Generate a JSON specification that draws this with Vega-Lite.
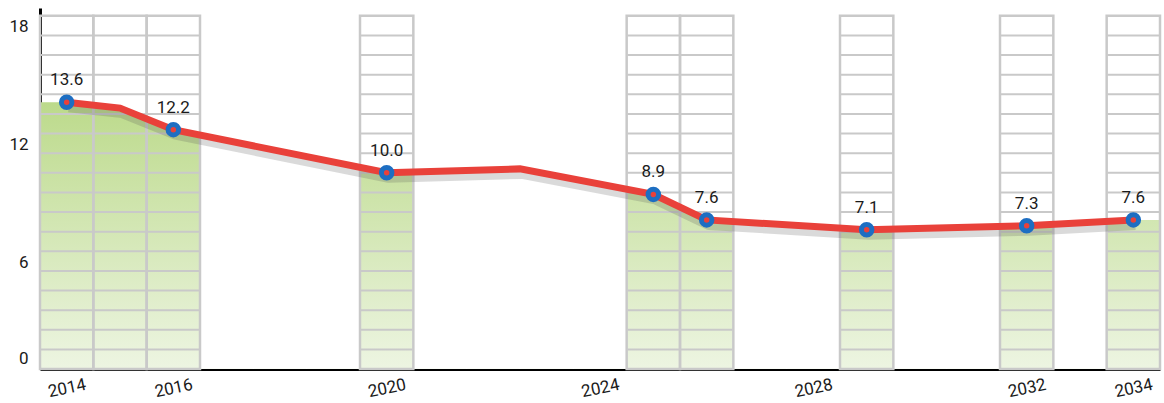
{
  "$schema": "https://vega.github.io/schema/vega-lite/v6.json",
  "width": 1120,
  "height": 361,
  "autosize": {"type": "none"},
  "padding": {"left": 40, "top": 8, "right": 4, "bottom": 34},
  "background": "white",
  "config": {
    "view": {"stroke": null},
    "font": "Roboto",
    "axis": {"labelFont": "Roboto", "labelColor": "#1a1a1a", "zindex": 2}
  },
  "datasets": {
    "years": [
      {"year": 2014, "kind": "col"}, {"year": 2015, "kind": "col"}, {"year": 2016, "kind": "col"},
      {"year": 2017, "kind": "gap"}, {"year": 2018, "kind": "gap"}, {"year": 2019, "kind": "gap"},
      {"year": 2020, "kind": "col"}, {"year": 2021, "kind": "gap"}, {"year": 2022, "kind": "gap"},
      {"year": 2023, "kind": "gap"}, {"year": 2024, "kind": "gap"}, {"year": 2025, "kind": "col"},
      {"year": 2026, "kind": "col"}, {"year": 2027, "kind": "gap"}, {"year": 2028, "kind": "gap"},
      {"year": 2029, "kind": "col"}, {"year": 2030, "kind": "gap"}, {"year": 2031, "kind": "gap"},
      {"year": 2032, "kind": "col"}, {"year": 2033, "kind": "gap"}, {"year": 2034, "kind": "col"}
    ],
    "levels": [
      {"level": 1}, {"level": 2}, {"level": 3}, {"level": 4}, {"level": 5}, {"level": 6},
      {"level": 7}, {"level": 8}, {"level": 9}, {"level": 10}, {"level": 11}, {"level": 12},
      {"level": 13}, {"level": 14}, {"level": 15}, {"level": 16}, {"level": 17}
    ],
    "series": [
      {"year": 2013.5, "value": 13.6, "kind": "edge"},
      {"year": 2014, "value": 13.6, "kind": "point", "label": "13.6"},
      {"year": 2015, "value": 13.3, "kind": "vertex"},
      {"year": 2016, "value": 12.2, "kind": "point", "label": "12.2"},
      {"year": 2020, "value": 10.0, "kind": "point", "label": "10.0"},
      {"year": 2022.5, "value": 10.2, "kind": "vertex"},
      {"year": 2025, "value": 8.9, "kind": "point", "label": "8.9"},
      {"year": 2026, "value": 7.6, "kind": "point", "label": "7.6"},
      {"year": 2029, "value": 7.1, "kind": "point", "label": "7.1"},
      {"year": 2032, "value": 7.3, "kind": "point", "label": "7.3"},
      {"year": 2034, "value": 7.6, "kind": "point", "label": "7.6"},
      {"year": 2034.5, "value": 7.6, "kind": "edge"}
    ]
  },
  "resolve": {"scale": {"x": "independent"}},
  "layer": [
    {
      "data": {"name": "series"},
      "mark": {
        "type": "area",
        "color": {
          "gradient": "linear", "x1": 0, "y1": 0, "x2": 0, "y2": 1,
          "stops": [{"offset": 0, "color": "#bcda8b"}, {"offset": 1, "color": "#edf5e2"}]
        }
      },
      "encoding": {
        "x": {
          "field": "year", "type": "quantitative",
          "scale": {"domain": [2013.5, 2034.5], "nice": false, "zero": false},
          "axis": {
            "values": [2014, 2016, 2020, 2024, 2028, 2032, 2034],
            "format": "d", "title": null, "grid": false, "ticks": false,
            "domainColor": "#000000", "domainWidth": 3,
            "labelAngle": -12, "labelAlign": "center", "labelBaseline": "middle",
            "labelFontSize": 17, "labelPadding": 19, "labelFontWeight": 400
          }
        },
        "y": {
          "field": "value", "type": "quantitative",
          "scale": {"domain": [0, 18.4], "nice": false},
          "axis": {
            "values": [0, 6, 12, 18], "title": null, "grid": false, "ticks": false,
            "domainColor": "#000000", "domainWidth": 3,
            "labelFontSize": 17, "labelPadding": 12, "labelFontWeight": 400,
            "labelOffset": {"condition": {"test": "datum.value === 0", "value": -11}, "value": 11}
          }
        }
      }
    },
    {
      "data": {"name": "levels"},
      "mark": {"type": "rule", "color": "#c9c9c9", "strokeWidth": 2},
      "encoding": {"y": {"field": "level", "type": "quantitative", "title": null}}
    },
    {
      "data": {"name": "years"},
      "transform": [{"filter": "datum.kind === 'gap'"}],
      "mark": {"type": "bar", "fill": "white", "stroke": "white", "strokeWidth": 1.5},
      "encoding": {
        "x": {
          "field": "year", "type": "ordinal",
          "scale": {"domain": [2014, 2015, 2016, 2017, 2018, 2019, 2020, 2021, 2022, 2023, 2024, 2025, 2026, 2027, 2028, 2029, 2030, 2031, 2032, 2033, 2034], "paddingInner": 0, "paddingOuter": 0},
          "axis": null
        },
        "y": {"datum": 18.2, "type": "quantitative"},
        "y2": {"datum": 0.05}
      }
    },
    {
      "data": {"name": "years"},
      "transform": [{"filter": "datum.kind === 'col'"}],
      "mark": {"type": "bar", "fill": "transparent", "stroke": "#c9c9c9", "strokeWidth": 2.5},
      "encoding": {
        "x": {
          "field": "year", "type": "ordinal",
          "scale": {"domain": [2014, 2015, 2016, 2017, 2018, 2019, 2020, 2021, 2022, 2023, 2024, 2025, 2026, 2027, 2028, 2029, 2030, 2031, 2032, 2033, 2034], "paddingInner": 0, "paddingOuter": 0},
          "axis": null
        },
        "y": {"datum": 18, "type": "quantitative"},
        "y2": {"datum": 0}
      }
    },
    {
      "data": {"name": "series"},
      "transform": [{"filter": "datum.kind !== 'edge'"}],
      "mark": {"type": "line", "color": "#555555", "opacity": 0.22, "strokeWidth": 10, "yOffset": 5, "xOffset": 2, "strokeJoin": "round"},
      "encoding": {
        "x": {"field": "year", "type": "quantitative", "scale": {"domain": [2013.5, 2034.5], "nice": false, "zero": false}, "axis": null},
        "y": {"field": "value", "type": "quantitative", "title": null}
      }
    },
    {
      "data": {"name": "series"},
      "transform": [{"filter": "datum.kind !== 'edge'"}],
      "mark": {"type": "line", "color": "#e9413a", "strokeWidth": 7, "strokeJoin": "miter"},
      "encoding": {
        "x": {"field": "year", "type": "quantitative", "scale": {"domain": [2013.5, 2034.5], "nice": false, "zero": false}, "axis": null},
        "y": {"field": "value", "type": "quantitative", "title": null}
      }
    },
    {
      "data": {"name": "series"},
      "transform": [{"filter": "datum.kind === 'point'"}],
      "mark": {"type": "point", "shape": "circle", "filled": false, "fill": "#e9413a", "fillOpacity": 1, "stroke": "#1d6ec2", "strokeWidth": 5, "size": 110, "opacity": 1},
      "encoding": {
        "x": {"field": "year", "type": "quantitative", "scale": {"domain": [2013.5, 2034.5], "nice": false, "zero": false}, "axis": null},
        "y": {"field": "value", "type": "quantitative", "title": null}
      }
    },
    {
      "data": {"name": "series"},
      "transform": [{"filter": "datum.kind === 'point'"}],
      "mark": {"type": "text", "dy": -22, "fontSize": 17, "fontWeight": 400, "color": "#1a1a1a", "font": "Roboto"},
      "encoding": {
        "x": {"field": "year", "type": "quantitative", "scale": {"domain": [2013.5, 2034.5], "nice": false, "zero": false}, "axis": null},
        "y": {"field": "value", "type": "quantitative", "title": null},
        "text": {"field": "label"}
      }
    }
  ]
}
